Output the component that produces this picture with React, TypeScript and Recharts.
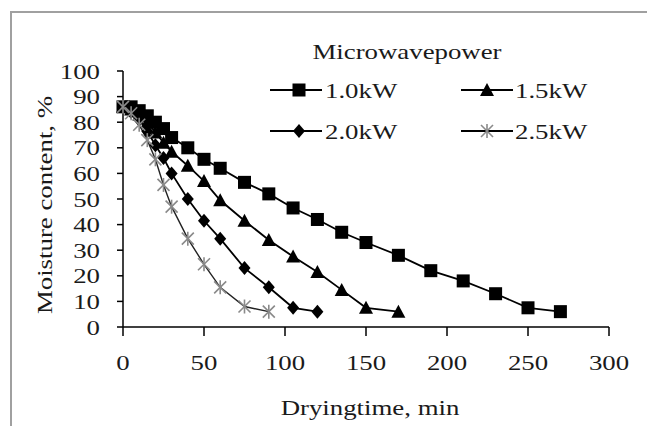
import React from 'react';
import { LineChart, Line, XAxis, YAxis, Legend } from 'recharts';

// axis ticks
const timeTicks = [0, 50, 100, 150, 200, 250, 300];
const moistureTicks = [0, 10, 20, 30, 40, 50, 60, 70, 80, 90, 100];

// 1.0 kW
const time10 = [0, 5, 10, 15, 20, 25, 30, 40, 50, 60, 75, 90, 105, 120, 135, 150, 170, 190, 210, 230, 250, 270];
const moisture10 = [86, 86, 84.5, 82.5, 80, 77.5, 74, 70, 65.5, 62, 56.5, 52, 46.5, 42, 37, 33, 28, 22, 18, 13, 7.5, 6];
// 1.5 kW
const time15 = [0, 5, 10, 15, 20, 25, 30, 40, 50, 60, 75, 90, 105, 120, 135, 150, 170];
const moisture15 = [86, 85, 83, 80, 76, 72, 68.5, 63, 57, 49.5, 41.5, 34, 27.5, 21.5, 14.5, 7.5, 6];
// 2.0 kW
const time20 = [0, 5, 10, 15, 20, 25, 30, 40, 50, 60, 75, 90, 105, 120];
const moisture20 = [86, 84, 81, 76.5, 71, 66, 60, 50, 41.5, 34.5, 23, 15.5, 7.5, 6];
// 2.5 kW
const time25 = [0, 5, 10, 15, 20, 25, 30, 40, 50, 60, 75, 90];
const moisture25 = [86, 83.5, 79, 73, 65.5, 55.5, 47, 34.5, 24.5, 15.5, 8, 6];

const legendLabels = ['1.0kW', '1.5kW', '2.0kW', '2.5kW'];

const toRows = (t: number[], m: number[]) => t.map((x, i) => ({ t: x, m: m[i] }));

const FONT = '"Liberation Serif", "Times New Roman", serif';
const SX = 1.22;
const INK = '#1a1a1a';
const GREY = '#8a8a8a';

const StretchText = ({ x, y, anchor = 'start', size = 22, rotate = 0, children }: any) => (
  <g transform={`translate(${x},${y}) rotate(${rotate}) scale(${SX},1)`}>
    <text x={0} y={0} textAnchor={anchor} fontFamily={FONT} fontSize={size} fill={INK}>
      {children}
    </text>
  </g>
);

const Square = ({ cx, cy }: any) => <rect x={cx - 6.5} y={cy - 6.5} width={13} height={13} fill="#000" />;
const Triangle = ({ cx, cy }: any) => (
  <polygon points={`${cx},${cy - 7} ${cx + 7},${cy + 6} ${cx - 7},${cy + 6}`} fill="#000" />
);
const Diamond = ({ cx, cy }: any) => (
  <polygon points={`${cx},${cy - 7} ${cx + 6},${cy} ${cx},${cy + 7} ${cx - 6},${cy}`} fill="#000" />
);
const Asterisk = ({ cx, cy }: any) => (
  <g stroke={GREY} strokeWidth={1.6}>
    <line x1={cx} y1={cy - 7} x2={cx} y2={cy + 7} />
    <line x1={cx - 6} y1={cy - 6} x2={cx + 6} y2={cy + 6} />
    <line x1={cx - 6} y1={cy + 6} x2={cx + 6} y2={cy - 6} />
  </g>
);

const markers = [Square, Triangle, Diamond, Asterisk];

const XTick = ({ x, y, payload }: any) => (
  <StretchText x={x} y={y + 34} anchor="middle">{payload.value}</StretchText>
);
const YTick = ({ x, y, payload }: any) => (
  <StretchText x={x} y={y + 7.5} anchor="end">{payload.value}</StretchText>
);

const LegendBox = () => {
  const cols = [
    { lx1: 270, lx2: 322, mx: 299, tx: 325 },
    { lx1: 461, lx2: 513, mx: 487, tx: 515 },
  ];
  const rows = [90, 131];
  return (
    <svg width={647} height={150} style={{ display: 'block' }}>
      <StretchText x={407} y={59} anchor="middle">Microwavepower</StretchText>
      {legendLabels.map((label, i) => {
        const c = cols[i % 2];
        const cy = rows[Math.floor(i / 2)];
        const M = markers[i];
        return (
          <g key={label}>
            <line x1={c.lx1} y1={cy} x2={c.lx2} y2={cy} stroke="#000" strokeWidth={2} />
            <M cx={c.mx} cy={cy} />
            <StretchText x={c.tx} y={cy + 8}>{label}</StretchText>
          </g>
        );
      })}
    </svg>
  );
};

const App = () => {
  const series = [
    { rows: toRows(time10, moisture10), stroke: '#000', width: 1.8 },
    { rows: toRows(time15, moisture15), stroke: '#000', width: 1.8 },
    { rows: toRows(time20, moisture20), stroke: '#000', width: 1.8 },
    { rows: toRows(time25, moisture25), stroke: '#222', width: 1.4 },
  ];
  return (
    <div style={{ position: 'absolute', left: 0, top: 0, width: 647, height: 426, background: '#fff' }}>
      <div
        style={{
          position: 'absolute',
          left: 10,
          top: 11,
          width: 637,
          height: 415,
          borderTop: '2px solid #a0a0a0',
          borderLeft: '2px solid #a0a0a0',
          boxSizing: 'border-box',
        }}
      />
      <LineChart width={647} height={426} margin={{ top: 71, right: 38, left: 0, bottom: 0 }}>
        <XAxis
          dataKey="t"
          type="number"
          domain={[0, 300]}
          ticks={timeTicks}
          allowDuplicatedCategory={false}
          height={99}
          tickSize={9}
          tickMargin={0}
          tick={<XTick />}
          axisLine={{ stroke: '#000', strokeWidth: 1.5 }}
          tickLine={{ stroke: '#000', strokeWidth: 1.5 }}
          label={{
            content: () => <StretchText x={370} y={415} anchor="middle">Dryingtime,  min</StretchText>,
          }}
        />
        <YAxis
          dataKey="m"
          type="number"
          domain={[0, 100]}
          ticks={moistureTicks}
          width={123}
          tickSize={6}
          tickMargin={17}
          tick={<YTick />}
          axisLine={{ stroke: '#000', strokeWidth: 1.5 }}
          tickLine={{ stroke: '#000', strokeWidth: 1.5 }}
          label={{
            content: () => (
              <StretchText x={52} y={205} anchor="middle" rotate={-90}>Moisture content,  %</StretchText>
            ),
          }}
        />
        <Legend
          layout="horizontal"
          verticalAlign="middle"
          align="center"
          wrapperStyle={{ left: 0, top: 0, width: 647, height: 150, pointerEvents: 'none' }}
          content={<LegendBox />}
        />
        {series.map((s, i) => {
          const M = markers[i];
          return (
            <Line
              key={legendLabels[i]}
              data={s.rows}
              dataKey="m"
              name={legendLabels[i]}
              type="linear"
              stroke={s.stroke}
              strokeWidth={s.width}
              dot={(p: any) => <M key={`${i}-${p.index}`} cx={p.cx} cy={p.cy} />}
              activeDot={false}
              isAnimationActive={false}
            />
          );
        })}
      </LineChart>
    </div>
  );
};

export default App;
